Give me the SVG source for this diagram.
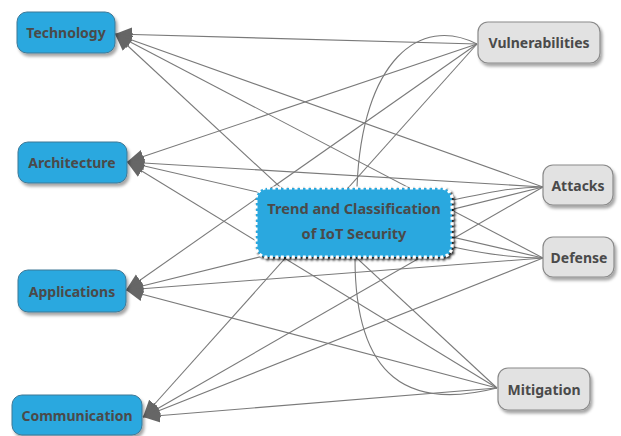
<svg xmlns="http://www.w3.org/2000/svg" width="621" height="436" viewBox="0 0 621 436">
<style>
.bg{fill:#ffffff}
.edge{fill:none;stroke:#7a7a7a;stroke-width:1.1}
.curve{fill:none;stroke:#7a7a7a;stroke-width:1.1}
.blue{fill:#29a8df;stroke:#3f7896;stroke-width:1}
.gray{fill:#e2e2e2;stroke:#8a8a8a;stroke-width:1.2}
.center{fill:#29a8df;stroke:#ffffff;stroke-width:3;stroke-dasharray:3 2.5}
.lbl{font-family:"Noto Sans","Open Sans",sans-serif;font-weight:bold;font-size:14px;fill:#4a4a4a;text-anchor:middle}
.big{font-size:14.6px}
</style>
<defs>
<marker id="arr" markerUnits="userSpaceOnUse" markerWidth="18" markerHeight="16" refX="17" refY="8" orient="auto" viewBox="0 0 18 16">
<path d="M0,1 L17,8 L0,15 z" fill="#666666"/>
</marker>
<filter id="sh" x="-20%" y="-20%" width="150%" height="160%">
<feDropShadow dx="2" dy="3" stdDeviation="1.5" flood-color="#000" flood-opacity="0.35"/>
</filter>
<filter id="shc" x="-20%" y="-20%" width="150%" height="160%">
<feDropShadow dx="2" dy="2" stdDeviation="0.8" flood-color="#000" flood-opacity="0.85"/>
</filter>
</defs>
<rect class="bg" x="0" y="0" width="621" height="436"/>
<g id="connectors">
<path class="edge" marker-end="url(#arr)" d="M477,44 L115,34"/>
<path class="edge" marker-end="url(#arr)" d="M477,44 L127,162"/>
<path class="edge" marker-end="url(#arr)" d="M477,44 L126,290"/>
<path class="edge" marker-end="url(#arr)" d="M477,44 L143,417"/>
<path class="edge" marker-end="url(#arr)" d="M543,187 L115,34"/>
<path class="edge" marker-end="url(#arr)" d="M543,187 L127,162"/>
<path class="edge" marker-end="url(#arr)" d="M543,187 L126,290"/>
<path class="edge" marker-end="url(#arr)" d="M543,187 L143,417"/>
<path class="edge" marker-end="url(#arr)" d="M543,258 L115,34"/>
<path class="edge" marker-end="url(#arr)" d="M543,258 L127,162"/>
<path class="edge" marker-end="url(#arr)" d="M543,258 L126,290"/>
<path class="edge" marker-end="url(#arr)" d="M543,258 L143,417"/>
<path class="edge" marker-end="url(#arr)" d="M497,388 L115,34"/>
<path class="edge" marker-end="url(#arr)" d="M497,388 L127,162"/>
<path class="edge" marker-end="url(#arr)" d="M497,388 L126,290"/>
<path class="edge" marker-end="url(#arr)" d="M497,388 L143,417"/>
<path class="curve" d="M357,187 C362,60 420,15 477,44"/>
<path class="curve" d="M453,200 C490,192 515,187 543,187"/>
<path class="curve" d="M453,247 C490,255 515,258 543,258"/>
<path class="curve" d="M355,258 C355,380 410,410 497,388"/>
</g>
<g id="technology"><rect class="blue" filter="url(#sh)" x="17" y="12" width="98" height="41" rx="10"/><text class="lbl" x="66" y="38">Technology</text></g>
<g id="architecture"><rect class="blue" filter="url(#sh)" x="18" y="142" width="109" height="41" rx="10"/><text class="lbl" x="72" y="168">Architecture</text></g>
<g id="applications"><rect class="blue" filter="url(#sh)" x="18" y="270" width="108" height="42" rx="10"/><text class="lbl" x="72" y="297">Applications</text></g>
<g id="communication"><rect class="blue" filter="url(#sh)" x="12" y="395" width="130" height="40" rx="10"/><text class="lbl" x="77" y="421">Communication</text></g>
<g id="vulnerabilities"><rect class="gray" filter="url(#sh)" x="478" y="22" width="122" height="41" rx="10"/><text class="lbl" x="539" y="48">Vulnerabilities</text></g>
<g id="attacks"><rect class="gray" filter="url(#sh)" x="543" y="165" width="70" height="40" rx="10"/><text class="lbl" x="578" y="191">Attacks</text></g>
<g id="defense"><rect class="gray" filter="url(#sh)" x="543" y="237" width="71" height="40" rx="10"/><text class="lbl" x="579" y="263">Defense</text></g>
<g id="mitigation"><rect class="gray" filter="url(#sh)" x="498" y="368" width="92" height="42" rx="10"/><text class="lbl" x="544" y="395">Mitigation</text></g>
<g id="center"><rect class="center" filter="url(#shc)" x="256" y="188" width="196" height="69" rx="11"/><text class="lbl big" x="354" y="214">Trend and Classification</text><text class="lbl big" x="354" y="239">of IoT Security</text></g>
</svg>
